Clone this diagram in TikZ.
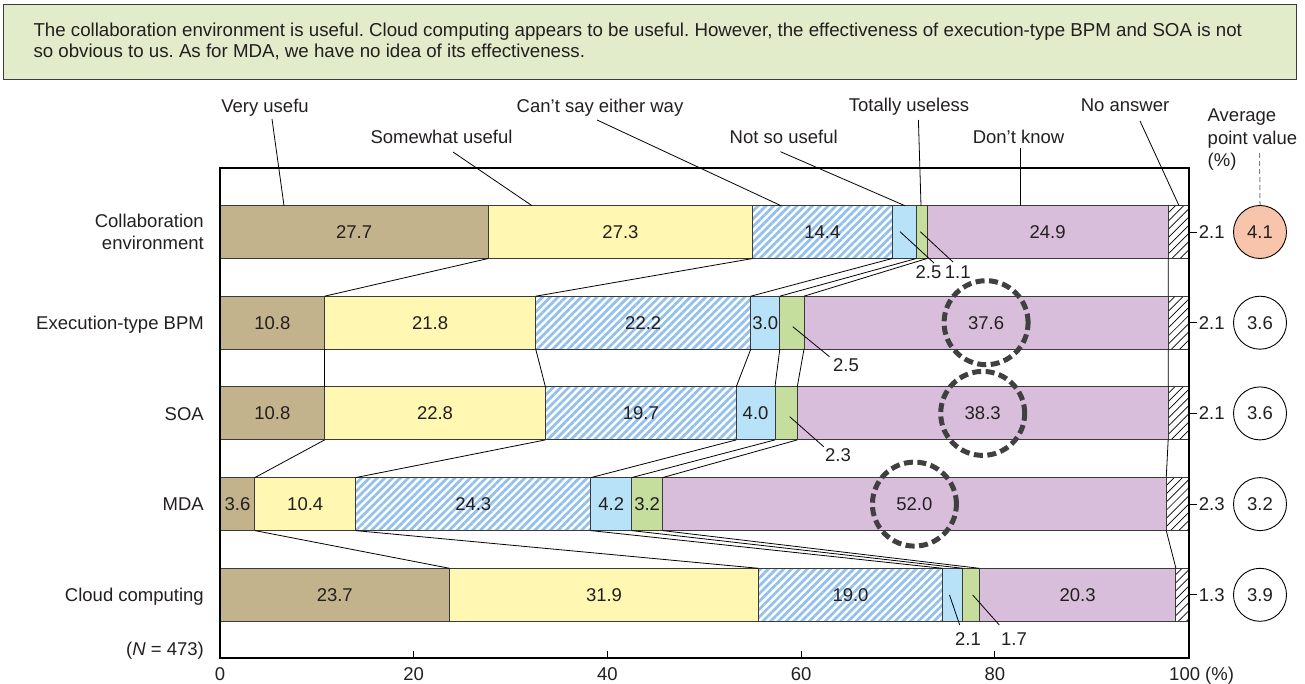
\documentclass[tikz,border=0pt]{standalone}
\usepackage{fontspec}
\setmainfont{Liberation Sans}
\usetikzlibrary{patterns.meta}
\frenchspacing

\definecolor{cVery}{HTML}{C3B38D}
\definecolor{cSome}{HTML}{FFF7B2}
\definecolor{cHatch}{HTML}{94C1EC}
\definecolor{cNotSo}{HTML}{B7E2F8}
\definecolor{cUseless}{HTML}{C6DE9D}
\definecolor{cDontKnow}{HTML}{D9BEDC}
\definecolor{cAvg}{HTML}{F8C4AB}
\definecolor{cHead}{HTML}{E2ECCB}
\definecolor{cHeadEdge}{HTML}{3C3C3C}
\definecolor{cText}{HTML}{231F20}
\definecolor{cEdge}{HTML}{3A3A3A}
\definecolor{cRing}{HTML}{404040}

\tikzset{
  lbl/.style={font=\fontsize{18.5}{22.7}\selectfont, text=cText, inner sep=0pt},
  hdtext/.style={font=\fontsize{18.7}{20.3}\selectfont, text=cText, inner sep=0pt},
  headbox/.style={draw=cHeadEdge, fill=cHead, line width=1.2pt, inner sep=0pt},
  segment/.style={lbl, draw=cEdge, line width=0.9pt, minimum height=53pt, outer sep=0pt},
  seg1/.style={fill=cVery},
  seg2/.style={fill=cSome},
  seg3/.style={pattern={Lines[angle=45, distance=5.5pt, line width=2.8pt]}, pattern color=cHatch},
  seg4/.style={fill=cNotSo},
  seg5/.style={fill=cUseless},
  seg6/.style={fill=cDontKnow},
  seg7/.style={pattern={Lines[angle=45, distance=5.8pt, line width=0.7pt]}, pattern color=black},
  conn/.style={draw=black, line width=0.8pt},
  frame/.style={draw=black, line width=2pt},
  avg/.style={lbl, circle, draw=black, line width=0.9pt, minimum size=53pt},
  ring/.style={circle, draw=cRing, line width=5pt, dash pattern=on 9pt off 4.5pt, minimum size=84pt, inner sep=0pt},
}

\begin{document}
\begin{tikzpicture}[x=1pt, y=-1pt]
\useasboundingbox (0,0) rectangle (1305,684);

% heading box with the summary sentence
\node[headbox, anchor=north west, minimum width=1293pt, minimum height=75.3pt] (head) at (2.7,4) {};
\node[hdtext, anchor=north west, align=left] (headtext) at (33.3,23.2)
  {The collaboration environment is useful. Cloud computing appears to be useful. However, the effectiveness of execution-type BPM and SOA is not\\so obvious to us. As for MDA, we have no idea of its effectiveness.};

% stacked bars: value/shown-inside pairs for each row
\foreach \rw/\vals in {
  1/{27.7/1,27.3/1,14.4/1,2.5/0,1.1/0,24.9/1,2.1/0},
  2/{10.8/1,21.8/1,22.2/1,3.0/1,2.5/0,37.6/1,2.1/0},
  3/{10.8/1,22.8/1,19.7/1,4.0/1,2.3/0,38.3/1,2.1/0},
  4/{3.6/1,10.4/1,24.3/1,4.2/1,3.2/1,52.0/1,2.3/0},
  5/{23.7/1,31.9/1,19.0/1,2.1/0,1.7/0,20.3/1,1.3/0}}{
  \pgfmathsetmacro\yc{232+90.7*(\rw-1)}
  \gdef\cum{0}
  \foreach \val/\sh [count=\kk] in \vals {
    \pgfmathsetmacro\xa{220+9.685*\cum}
    \pgfmathsetmacro\segw{9.685*\val}
    \node[segment, seg\kk, minimum width=\segw pt, anchor=west] (s-\rw-\kk) at (\xa,\yc) {\ifnum\sh=1 \val\fi};
    \pgfmathsetmacro\nc{\cum+\val}
    \global\let\cum\nc
  }
}

% connectors between matching boundaries of neighbouring bars
\foreach \rw [evaluate=\rw as \rn using int(\rw+1)] in {1,...,4}
  \foreach \kk in {1,...,6}
    \draw[conn] (s-\rw-\kk.south east) -- (s-\rn-\kk.north east);

% plot frame, ticks and axis numbers
\draw[frame] (220,168) rectangle (1188.5,658);
\foreach \pp in {20,40,60,80}
  \draw[conn] ({220+9.685*\pp},658) -- ++(0,-7);
\foreach \pp in {0,20,40,60,80}
  \node[lbl, anchor=base] (ax-\pp) at ({220+9.685*\pp},680) {\pp};
\node[lbl, anchor=base west] (ax-100) at (1169,680) {100 (\%)};

% "no answer" values to the right of the frame
\foreach \rw/\tv in {1/2.1,2/2.1,3/2.1,4/2.3,5/1.3}
  \draw[conn] (s-\rw-7.east) -- ++(8,0) node[lbl, anchor=west, inner sep=2pt] (na-\rw) {\tv};

% average point values
\node[avg, fill=cAvg] (avg-1) at (1260,232) {4.1};
\foreach \rw/\tv in {2/3.6,3/3.6,4/3.2,5/3.9}
  \node[avg] (avg-\rw) at (1260,{232+90.7*(\rw-1)}) {\tv};

% row labels
\node[lbl, anchor=east, align=right] (row-1) at (204,232) {Collaboration\\environment};
\node[lbl, anchor=base east] (row-2) at (204,329.3) {Execution-type BPM};
\node[lbl, anchor=base east] (row-3) at (204,420) {SOA};
\node[lbl, anchor=base east] (row-4) at (204,510.7) {MDA};
\node[lbl, anchor=base east] (row-5) at (204,601.4) {Cloud computing};
\node[lbl, anchor=base east] (nnote) at (204,655) {(\textit{N} = 473)};

% category labels with leader lines
\node[lbl, anchor=base] (c-very) at (265,112.7) {Very usefu};
\node[lbl, anchor=base] (c-some) at (441.5,143.3) {Somewhat useful};
\node[lbl, anchor=base] (c-cant) at (600,112.7) {Can’t say either way};
\node[lbl, anchor=base] (c-notso) at (783.7,144) {Not so useful};
\node[lbl, anchor=base] (c-useless) at (909,111.7) {Totally useless};
\node[lbl, anchor=base] (c-dont) at (1018.5,144) {Don’t know};
\node[lbl, anchor=base] (c-noans) at (1125,111.7) {No answer};

\coordinate (lv1) at (272,119);    \coordinate (lv2) at (284,205.7);
\coordinate (ls1) at (453,152);    \coordinate (ls2) at (532,205.7);
\coordinate (lc1) at (597,120);    \coordinate (lc2) at (781,205.7);
\coordinate (ln1) at (780.4,151.7); \coordinate (ln2) at (904.9,205.7);
\coordinate (lu1) at (918.4,120);  \coordinate (lu2) at (921,205.7);
\coordinate (ld1) at (1020,148);   \coordinate (ld2) at (1020,205.7);
\coordinate (la1) at (1140,121);   \coordinate (la2) at (1179,205.7);
\foreach \ab in {lv,ls,lc,ln,lu,ld,la}
  \draw[conn] (\ab1) -- (\ab2);

% small values set outside their segments
\node[lbl, anchor=base] (o-1-4) at (928.5,278.3) {2.5};
\node[lbl, anchor=base] (o-1-5) at (957.7,278.3) {1.1};
\node[lbl, anchor=base] (o-2-5) at (846,371.7) {2.5};
\node[lbl, anchor=base] (o-3-5) at (838,461.7) {2.3};
\node[lbl, anchor=base] (o-5-4) at (968,645) {2.1};
\node[lbl, anchor=base] (o-5-5) at (1014,645) {1.7};

\coordinate (q14a) at (900,231.7);   \coordinate (q14b) at (934,263);
\coordinate (q15a) at (920.3,231.7); \coordinate (q15b) at (953,262);
\coordinate (q25a) at (792.8,326.7); \coordinate (q25b) at (829.5,356.7);
\coordinate (q35a) at (789.7,416.7); \coordinate (q35b) at (823.7,446.7);
\coordinate (q54a) at (949.5,595);   \coordinate (q54b) at (959.7,625);
\coordinate (q55a) at (972.7,595);   \coordinate (q55b) at (999.3,625);
\foreach \ab in {q14,q15,q25,q35,q54,q55}
  \draw[conn] (\ab a) -- (\ab b);

% highlighted "don't know" shares
\node[ring] (ring-2) at (s-2-6) {};
\node[ring] (ring-3) at (s-3-6) {};
\node[ring] (ring-4) at (s-4-6) {};

% heading of the average column
\node[lbl, anchor=north west, align=left] (avghead) at (1207.5,108.5) {Average\\point value\\(\%)};
\coordinate (avgtop) at (1259.5,153);
\draw[draw=gray, line width=1pt, dash pattern=on 5pt off 3pt] (avgtop) -- (avg-1.north);
\end{tikzpicture}
\end{document}
